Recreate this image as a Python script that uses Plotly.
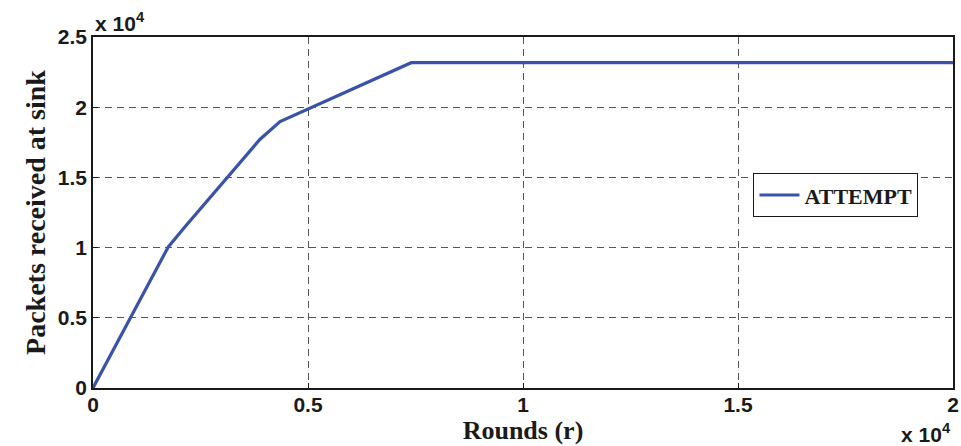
import plotly.graph_objects as go

rounds = [0, 1750, 2140, 3880, 4350, 7400, 20000]
packets = [0, 10050, 11490, 17700, 18970, 23170, 23170]
series_name = "ATTEMPT"

x_tickvals = [0, 5000, 10000, 15000, 20000]
x_ticktext = ["0", "0.5", "1", "1.5", "2"]
y_tickvals = [0, 5000, 10000, 15000, 20000, 25000]
y_ticktext = ["0", "0.5", "1", "1.5", "2", "2.5"]

fig = go.Figure()
fig.add_trace(go.Scatter(x=rounds, y=packets, mode="lines", name="<b>" + series_name + "</b>",
                         line=dict(color="#3853a8", width=3.2)))

tickfont = dict(family="Liberation Sans, Arial", size=21, color="#1a1a1a", weight="bold")
axcommon = dict(showline=True, linecolor="#1a1a1a", linewidth=1.5, mirror=True,
                showgrid=True, gridcolor="#555555", griddash="7px,5px", gridwidth=1,
                zeroline=False, ticks="inside", ticklen=5, tickcolor="#1a1a1a",
                tickfont=tickfont, automargin=False)

fig.update_layout(
    width=961, height=446,
    margin=dict(l=93, r=8, t=37, b=58, autoexpand=False),
    paper_bgcolor="white", plot_bgcolor="white",
    xaxis=dict(range=[0, 20000], tickmode="array", tickvals=x_tickvals, ticktext=x_ticktext,
               ticklabelstandoff=-3,
               title=dict(text="<b>Rounds (r)</b>", font=dict(family="Liberation Serif, Times New Roman", size=26, color="#1a1a1a"), standoff=0),
               **axcommon),
    yaxis=dict(range=[0, 25000], tickmode="array", tickvals=y_tickvals, ticktext=y_ticktext,
               ticklabelstandoff=0,
               title=dict(text="<b>Packets received at sink</b>", font=dict(family="Liberation Serif, Times New Roman", size=28, color="#1a1a1a"), standoff=4),
               **axcommon),
    legend=dict(x=0.768, y=0.612, xanchor="left", yanchor="top",
                bordercolor="#1a1a1a", borderwidth=1, bgcolor="white",
                font=dict(family="Liberation Serif, Times New Roman", size=22, color="#1a1a1a"),
                itemwidth=40),
    showlegend=True,
)

fig.add_annotation(xref="paper", yref="paper", x=0.0, y=1.0, xanchor="left", yanchor="bottom",
                   text="<b>x 10<sup>4</sup></b>", showarrow=False,
                   font=dict(family="Liberation Sans, Arial", size=21, color="#1a1a1a"), yshift=0)
fig.add_annotation(xref="paper", yref="paper", x=1.0, y=0, xanchor="right", yanchor="top",
                   text="<b>x 10<sup>4</sup></b>", showarrow=False,
                   font=dict(family="Liberation Sans, Arial", size=21, color="#1a1a1a"), yshift=-30)

fig.write_html("out.html", config={"displayModeBar": False},
               post_script="document.body.style.margin='0';document.body.style.overflow='hidden';")
